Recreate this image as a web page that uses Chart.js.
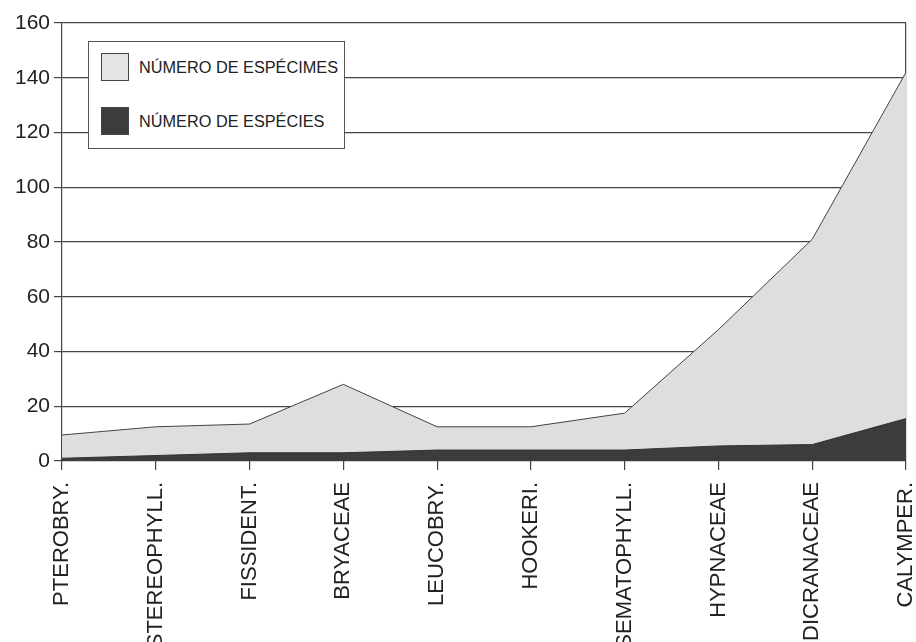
<!DOCTYPE html>
<html>
<head>
<meta charset="utf-8">
<script src="https://cdn.jsdelivr.net/npm/chart.js@4.4.1/dist/chart.umd.min.js"></script>
<style>
  html, body { margin: 0; padding: 0; background: #fff; }
  #wrap { position: relative; width: 916px; height: 642px; }
  #legend {
    position: absolute; left: 88px; top: 41px; width: 257px; height: 108px;
    background: #fff; border: 1px solid #555; box-sizing: border-box;
    font-family: "Liberation Sans", Arial, sans-serif; font-size: 16.3px; color: #222;
  }
  .item { position: absolute; left: 12px; display: flex; align-items: center; }
  .sw { width: 28px; height: 28px; box-sizing: border-box; border: 1px solid #444; margin-right: 10px; }
</style>
</head>
<body>
<div id="wrap">
  <canvas id="chart" width="916" height="642"></canvas>
  <div id="legend">
    <div class="item" style="top:11px"><div class="sw" style="background:#e4e4e4"></div><span>NÚMERO DE ESPÉCIMES</span></div>
    <div class="item" style="top:65px"><div class="sw" style="background:#3c3c3c"></div><span>NÚMERO DE ESPÉCIES</span></div>
  </div>
</div>
<script>
var families = ['PTEROBRY.', 'STEREOPHYLL.', 'FISSIDENT.', 'BRYACEAE', 'LEUCOBRY.', 'HOOKERI.', 'SEMATOPHYLL.', 'HYPNACEAE', 'DICRANACEAE', 'CALYMPER.'];
var specimens = [9.5, 12.5, 13.5, 28, 12.5, 12.5, 17.5, 48, 81, 142];
var species = [1, 2, 3, 3, 4, 4, 4, 5.5, 6, 15.5];
var yTicks = [0, 20, 40, 60, 80, 100, 120, 140, 160];

var font = "'Liberation Sans', Arial, sans-serif";
var ctx = document.getElementById('chart').getContext('2d');

var chart = new Chart(ctx, {
    type: 'line',
    data: {
        labels: families,
        datasets: [{
            label: 'NÚMERO DE ESPÉCIES',
            data: species,
            borderColor: '#333',
            borderWidth: 1,
            backgroundColor: '#3c3c3c',
            fill: 'origin',
            pointRadius: 0,
            tension: 0
        }, {
            label: 'NÚMERO DE ESPÉCIMES',
            data: specimens,
            borderColor: '#444',
            borderWidth: 1,
            backgroundColor: '#dedede',
            fill: 'origin',
            pointRadius: 0,
            tension: 0
        }]
    },
    options: {
        responsive: false,
        animation: false,
        layout: { autoPadding: false, padding: { top: 23, right: 10, bottom: 0, left: 0 } },
        plugins: {
            legend: { display: false },
            tooltip: { enabled: false }
        },
        scales: {
            x: {
                offset: false,
                afterFit: function(s) { s.height = 181; s.paddingLeft = 0; s.paddingRight = 0; },
                grid: {
                    drawOnChartArea: true,
                    color: function(c) { return c.index === families.length - 1 ? '#444' : 'rgba(0,0,0,0)'; },
                    tickColor: '#444',
                    tickLength: 9,
                    lineWidth: 1.2
                },
                border: { display: false },
                ticks: {
                    minRotation: 90,
                    maxRotation: 90,
                    autoSkip: false,
                    padding: 12,
                    color: '#222',
                    font: { family: font, size: 22 }
                }
            },
            y: {
                min: 0,
                max: 160,
                afterBuildTicks: function(s) { s.ticks = yTicks.map(function(v) { return { value: v }; }); },
                afterFit: function(s) { s.width = 62; s.paddingTop = 0; s.paddingBottom = 0; },
                grid: {
                    color: '#444',
                    lineWidth: 1.2,
                    tickLength: 8
                },
                border: { color: '#444', width: 1.2 },
                ticks: {
                    padding: 4,
                    color: '#222',
                    font: { family: font, size: 21 }
                }
            }
        }
    }
});
</script>
</body>
</html>
